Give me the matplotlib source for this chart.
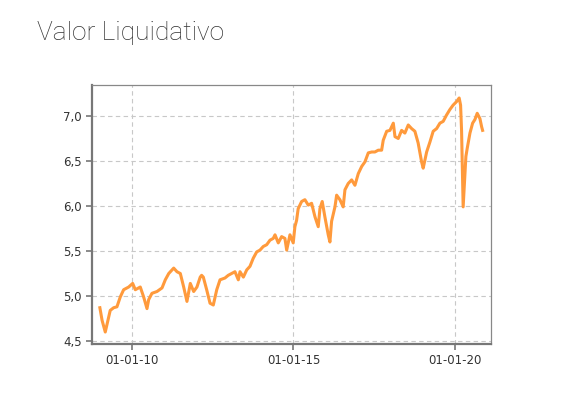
import matplotlib
matplotlib.use("Agg")
import matplotlib.pyplot as plt
import matplotlib.dates as mdates
from matplotlib.ticker import FuncFormatter
import pandas as pd

dates = [
    "2009-01-02", "2009-01-27", "2009-03-04", "2009-03-23", "2009-04-29", "2009-06-07",
    "2009-07-14", "2009-08-21", "2009-09-28", "2009-11-24", "2010-01-08", "2010-02-07",
    "2010-04-04", "2010-05-12", "2010-06-19", "2010-07-08", "2010-08-14", "2010-10-10",
    "2010-12-06", "2011-01-12", "2011-02-20", "2011-04-17", "2011-05-24", "2011-07-01",
    "2011-08-08", "2011-09-14", "2011-10-22", "2011-11-29", "2012-01-05", "2012-02-11",
    "2012-02-27", "2012-03-17", "2012-04-24", "2012-06-01", "2012-07-08", "2012-08-16",
    "2012-09-22", "2012-11-17", "2012-12-24", "2013-02-01", "2013-03-10", "2013-04-17",
    "2013-05-06", "2013-06-13", "2013-07-21", "2013-08-27", "2013-10-03", "2013-11-11",
    "2013-12-18", "2014-01-24", "2014-03-04", "2014-04-10", "2014-05-17", "2014-06-06",
    "2014-07-13", "2014-08-20", "2014-09-26", "2014-10-16", "2014-11-22", "2014-12-29",
    "2015-01-17", "2015-02-05", "2015-02-23", "2015-04-03", "2015-05-10", "2015-06-17",
    "2015-07-25", "2015-09-01", "2015-10-08", "2015-10-27", "2015-11-22", "2015-12-22",
    "2016-01-29", "2016-02-17", "2016-03-07", "2016-04-14", "2016-05-03", "2016-06-09",
    "2016-07-16", "2016-08-05", "2016-09-11", "2016-10-20", "2016-11-26", "2017-01-03",
    "2017-02-11", "2017-03-19", "2017-04-26", "2017-06-04", "2017-07-10", "2017-08-17",
    "2017-09-24", "2017-10-12", "2017-11-20", "2017-12-27", "2018-02-03", "2018-02-22",
    "2018-03-31", "2018-05-08", "2018-06-14", "2018-07-22", "2018-08-29", "2018-10-05",
    "2018-11-11", "2018-12-20", "2019-01-07", "2019-02-15", "2019-03-24", "2019-04-30",
    "2019-06-08", "2019-07-15", "2019-08-21", "2019-09-28", "2019-11-04", "2019-12-11",
    "2020-01-20", "2020-02-18", "2020-03-05", "2020-03-16", "2020-03-27", "2020-04-03",
    "2020-04-19", "2020-05-04", "2020-05-19", "2020-06-19", "2020-07-19", "2020-08-14",
    "2020-09-09", "2020-10-10", "2020-10-29", "2020-11-09",
]
values = [
    4.87, 4.73, 4.60, 4.68, 4.84, 4.87,
    4.88, 4.99, 5.07, 5.10, 5.14, 5.07,
    5.10, 4.99, 4.86, 4.96, 5.03, 5.05,
    5.09, 5.18, 5.25, 5.31, 5.27, 5.25,
    5.10, 4.94, 5.14, 5.05, 5.10, 5.21,
    5.23, 5.21, 5.07, 4.92, 4.90, 5.07,
    5.18, 5.20, 5.23, 5.25, 5.27, 5.18,
    5.27, 5.21, 5.29, 5.33, 5.42, 5.49,
    5.51, 5.55, 5.57, 5.62, 5.64, 5.68,
    5.59, 5.66, 5.64, 5.51, 5.68, 5.59,
    5.77, 5.84, 5.97, 6.05, 6.07, 6.01,
    6.03, 5.88, 5.77, 5.97, 6.05, 5.88,
    5.68, 5.60, 5.83, 5.99, 6.12, 6.07,
    5.99, 6.18, 6.25, 6.29, 6.23, 6.36,
    6.44, 6.49, 6.59, 6.60, 6.60, 6.62,
    6.62, 6.73, 6.83, 6.84, 6.92, 6.77,
    6.75, 6.84, 6.81, 6.90, 6.86, 6.83,
    6.70, 6.49, 6.42, 6.60, 6.71, 6.83,
    6.86, 6.92, 6.94, 7.01, 7.07, 7.12,
    7.16, 7.20, 7.12, 6.84, 6.33, 5.99,
    6.29, 6.55, 6.64, 6.81, 6.92, 6.96,
    7.03, 6.97, 6.88, 6.84,
]
xticks = ["2010-01-01", "2015-01-01", "2020-01-01"]
yticks = [4.5, 5.0, 5.5, 6.0, 6.5, 7.0]
title = "Valor Liquidativo"

x = pd.to_datetime(dates)

fig = plt.figure(figsize=(5.72, 3.99), dpi=100)
ax = fig.add_axes([92 / 572, 1 - 344 / 399, (491 - 92) / 572, (344 - 85) / 399])

ax.plot(x, values, color="#ff9a3c", linewidth=2.2, solid_joinstyle="round")

ax.set_xlim(pd.Timestamp("2008-10-05"), pd.Timestamp("2021-02-12"))
ax.set_ylim(4.467, 7.344)
ax.set_xticks(pd.to_datetime(xticks))
ax.xaxis.set_major_formatter(mdates.DateFormatter("%d-%m-%y"))
ax.set_yticks(yticks)
ax.yaxis.set_major_formatter(FuncFormatter(lambda v, p: f"{v:.1f}".replace(".", ",")))

ax.grid(True, color="#c8c8c8", linestyle=(0, (4, 3)), linewidth=0.8)
ax.set_axisbelow(True)

for s in ["top", "right"]:
    ax.spines[s].set_color("#888888")
    ax.spines[s].set_linewidth(0.9)
for s in ["left", "bottom"]:
    ax.spines[s].set_color("#777777")
    ax.spines[s].set_linewidth(1.6)

ax.tick_params(axis="both", direction="out", length=4, width=1.2, color="#777777",
               labelsize=8.5, labelcolor="#333333")

fig.text(37 / 572, 1 - 33 / 399, title, fontsize=19, color="#333333",
         family="Roboto", fontweight="light", va="center", ha="left")

fig.savefig("out.png", dpi=100, facecolor="white")
